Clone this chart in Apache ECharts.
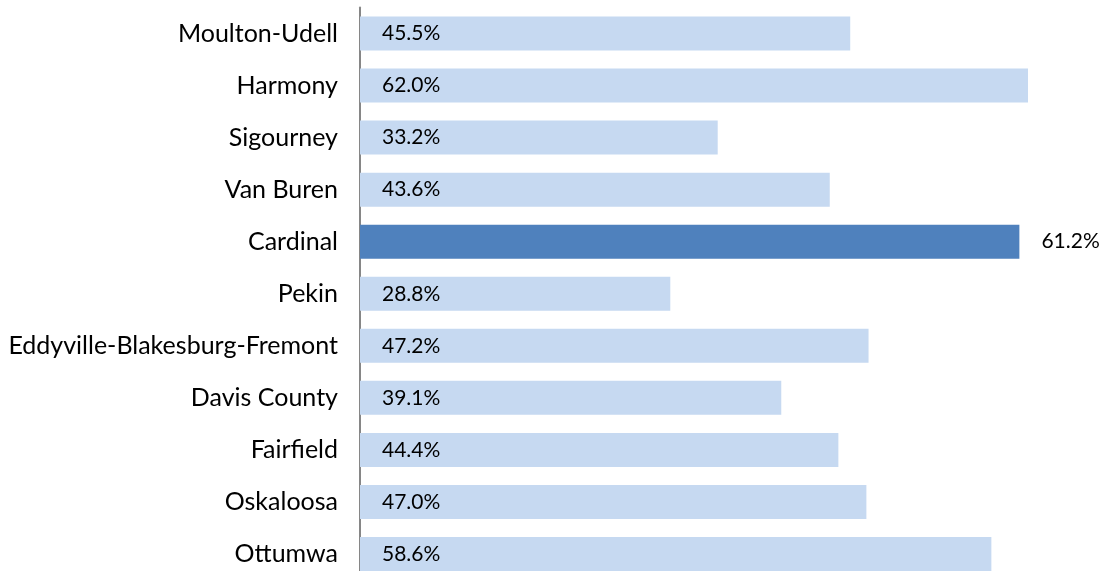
<!DOCTYPE html>
<html>
<head>
<meta charset="utf-8">
<script src="https://cdn.jsdelivr.net/npm/echarts@6/dist/echarts.min.js"></script>
<style>
  html, body { margin: 0; padding: 0; background: #fff; overflow: hidden; }
  #chart { width: 1099px; height: 580px; }
</style>
</head>
<body>
<div id="chart"></div>
<script>
const districts = [
  "Moulton-Udell", "Harmony", "Sigourney", "Van Buren", "Cardinal", "Pekin",
  "Eddyville-Blakesburg-Fremont", "Davis County", "Fairfield", "Oskaloosa", "Ottumwa"
];
const rates = [45.5, 62.0, 33.2, 43.6, 61.2, 28.8, 47.2, 39.1, 44.4, 47.0, 58.6];
const highlight = "Cardinal";

const chart = echarts.init(document.getElementById("chart"));

const data = districts.map((name, i) => {
  const hot = name === highlight;
  return {
    value: rates[i],
    itemStyle: { color: hot ? "#4F81BD" : "#C6D9F1" },
    label: hot
      ? { position: "right", distance: 22 }
      : { position: "insideLeft", distance: 22 }
  };
});

chart.setOption({
  animation: false,
  grid: { left: 360, right: 71, top: 7.5, bottom: 0, containLabel: false },
  xAxis: {
    type: "value",
    min: 0,
    max: 62,
    show: false
  },
  yAxis: {
    type: "category",
    data: districts,
    inverse: true,
    axisLine: { show: true, lineStyle: { color: "#868686", width: 2 } },
    axisTick: { show: false },
    axisLabel: {
      margin: 22,
      color: "#000",
      fontFamily: "Lato",
      fontSize: 25
    }
  },
  series: [{
    type: "bar",
    data,
    barWidth: 34,
    label: {
      show: true,
      color: "#000",
      fontFamily: "Lato",
      fontSize: 21,
      formatter: p => p.value.toFixed(1) + "%"
    }
  }]
});
</script>
</body>
</html>
